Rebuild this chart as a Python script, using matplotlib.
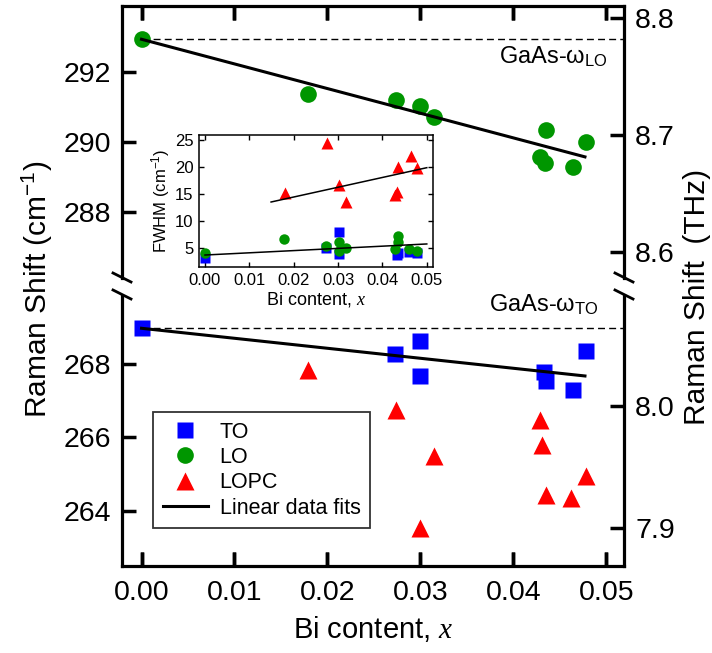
import matplotlib
matplotlib.use('Agg')
import matplotlib.pyplot as plt
from matplotlib.lines import Line2D
from matplotlib.markers import TICKUP, TICKDOWN

plt.rcParams['font.family'] = ['Liberation Sans', 'DejaVu Sans']
plt.rcParams['mathtext.fontset'] = 'custom'
plt.rcParams['mathtext.rm'] = 'Liberation Sans'
plt.rcParams['mathtext.it'] = 'Liberation Serif:italic'
plt.rcParams['mathtext.default'] = 'rm'

# Raman shift (cm-1) vs Bi content
x_to = [0.0, 0.0273, 0.0300, 0.0300, 0.0433, 0.0435, 0.0464, 0.0478]
to_shift = [268.97, 268.27, 268.63, 267.67, 267.77, 267.54, 267.29, 268.35]

x_lo = [0.0, 0.0179, 0.0274, 0.0300, 0.0315, 0.0435, 0.0429, 0.0434, 0.0464, 0.0478]
lo_shift = [292.93, 291.38, 291.19, 291.02, 290.72, 290.35, 289.57, 289.40, 289.29, 290.00]

x_lopc = [0.0179, 0.0274, 0.0300, 0.0315, 0.0429, 0.0431, 0.0435, 0.0462, 0.0478]
lopc_shift = [267.84, 266.75, 263.52, 265.49, 266.47, 265.79, 264.43, 264.34, 264.93]

# linear fits (end points)
fit_x = [0.0, 0.0477]
lo_fit = [292.93, 289.57]
to_fit = [268.97, 267.67]

# GaAs reference phonons
gaas_lo = 292.93
gaas_to = 268.97

# inset: FWHM (cm-1)
ix_to = [0.0, 0.0272, 0.0301, 0.0301, 0.0433, 0.0435, 0.0461, 0.0478]
fwhm_to = [3.15, 5.1, 7.95, 3.9, 3.75, 4.1, 4.4, 4.1]
ix_lo = [0.0, 0.0179, 0.0272, 0.0301, 0.0302, 0.0317, 0.0429, 0.0434, 0.0435, 0.0461, 0.0478]
fwhm_lo = [4.1, 6.65, 5.4, 6.2, 4.5, 5.1, 4.9, 6.2, 7.3, 4.8, 4.5]
ix_lopc = [0.0180, 0.0274, 0.0302, 0.0317, 0.0429, 0.0432, 0.0435, 0.0464, 0.0478]
fwhm_lopc = [15.2, 24.5, 16.7, 13.6, 14.8, 15.3, 20.0, 22.0, 19.9]
ifit_lopc_x = [0.0149, 0.050]
ifit_lopc = [13.54, 19.87]
ifit_ph_x = [0.0, 0.050]
ifit_ph = [3.76, 5.8]

thz = 33.356  # cm-1 per THz
blue, green, red = '#0000ff', '#009600', '#ff0000'

W, H = 712, 653
fig = plt.figure(figsize=(W / 100, H / 100), dpi=100)

def fx(px):
    return px / W

def fy(py):
    return 1 - py / H

xlim = (-0.0021, 0.0519)
xticks = [0.0, 0.01, 0.02, 0.03, 0.04, 0.05]
ax_top = fig.add_axes([fx(122), fy(278), fx(624) - fx(122), fy(6) - fy(278)])
ax_bot = fig.add_axes([fx(122), fy(566), fx(624) - fx(122), fy(296) - fy(566)])
ax_top.set_ylim(286.11, 293.88)
ax_bot.set_ylim(262.49, 269.85)

for ax in (ax_top, ax_bot):
    ax.set_xlim(*xlim)
    ax.set_xticks(xticks)
    for s in ax.spines.values():
        s.set_linewidth(2.3)
    ax.tick_params(axis='y', direction='in', length=10, width=2.5, labelsize=20.5, pad=8)

ax_top.set_yticks([288, 290, 292])
ax_top.spines['bottom'].set_visible(False)

ax_bot.set_yticks([264, 266, 268])
ax_bot.spines['top'].set_visible(False)
ax_bot.set_xticklabels(['%.2f' % t for t in xticks])
ax_bot.set_xlabel('Bi content, $\\mathit{x}$', fontsize=21, labelpad=6)

# right THz axis
def to_thz(y):
    return y / thz

def to_cm(t):
    return t * thz

for ax, ticks in ((ax_top, [8.6, 8.7, 8.8]), (ax_bot, [7.9, 8.0])):
    sec = ax.secondary_yaxis('right', functions=(to_thz, to_cm))
    sec.set_yticks(ticks)
    sec.set_yticklabels(['%.1f' % t for t in ticks])
    sec.tick_params(direction='in', length=10, width=2.5, labelsize=20.5, pad=8)
    sec.spines['right'].set_linewidth(2.3)
    ax.spines['right'].set_visible(False)

# x ticks: inward, top side of the upper panel, bottom side of the lower panel
ax_top.xaxis.set_tick_params(which='major', top=True, bottom=False, labeltop=False,
                             labelbottom=False, direction='in', length=10, width=2.5,
                             color='k')
ax_bot.xaxis.set_tick_params(which='major', top=False, bottom=True, direction='in',
                             length=10, width=2.5, labelsize=20.5, pad=10, color='k')
ax_top.plot(xticks, [1] * len(xticks), ls='none', marker=TICKDOWN, ms=10, mew=2.5,
            color='k', transform=ax_top.get_xaxis_transform(), clip_on=False, zorder=6)
ax_bot.plot(xticks, [0] * len(xticks), ls='none', marker=TICKUP, ms=10, mew=2.5,
            color='k', transform=ax_bot.get_xaxis_transform(), clip_on=False, zorder=6)

# reference lines
ax_top.plot([0, xlim[1]], [gaas_lo, gaas_lo], '--', color='k', lw=1, dashes=(5, 3))
ax_bot.plot([0, xlim[1]], [gaas_to, gaas_to], '--', color='k', lw=1, dashes=(5, 3))
ax_top.text(0.0502, 292.24, 'GaAs-ω$_{\\mathrm{LO}}$', fontsize=17, ha='right', va='baseline')
ax_bot.text(0.0492, 269.43, 'GaAs-ω$_{\\mathrm{TO}}$', fontsize=17, ha='right', va='baseline')

# data
ax_top.plot(x_lo, lo_shift, 'o', color=green, ms=12, mec='none', zorder=3)
ax_top.plot(fit_x, lo_fit, '-', color='k', lw=2.2, zorder=4)

h_to, = ax_bot.plot(x_to, to_shift, 's', color=blue, ms=11.5, mec='none', zorder=3, label='TO')
h_lopc, = ax_bot.plot(x_lopc, lopc_shift, '^', color=red, ms=13, mec='none', zorder=3, label='LOPC')
h_fit, = ax_bot.plot(fit_x, to_fit, '-', color='k', lw=2.2, zorder=4, label='Linear data fits')
h_lo = Line2D([], [], marker='o', ls='none', color=green, ms=12, mec='none', label='LO')

leg = fig.legend(handles=[h_to, h_lo, h_lopc, h_fit], loc='upper left',
                 bbox_to_anchor=(fx(153), fy(412)), borderaxespad=0,
                 fontsize=15.5, frameon=True, fancybox=False, edgecolor='k',
                 handlelength=2.1, handletextpad=0.55, labelspacing=0.2,
                 borderpad=0.45, numpoints=1)
leg.get_frame().set_linewidth(1.3)

# axis break marks
for xp in (122, 624):
    for yp in (278, 295):
        fig.add_artist(Line2D([fx(xp - 9), fx(xp + 9)], [fy(yp - 5), fy(yp + 4)],
                              transform=fig.transFigure, color='k', lw=2))

fig.text(fx(37), fy(289), 'Raman Shift (cm$^{-1}$)', rotation=90, fontsize=21.5,
         ha='center', va='center')
fig.text(fx(697), fy(297), 'Raman Shift  (THz)', rotation=90, fontsize=21.5,
         ha='center', va='center')

# inset
axi = fig.add_axes([fx(199), fy(267), fx(433) - fx(199), fy(135) - fy(267)])
axi.set_facecolor('white')
axi.set_xlim(-0.00135, 0.0514)
axi.set_ylim(1.55, 25.9)
axi.plot(ix_lopc, fwhm_lopc, '^', color=red, ms=8, mec='none')
axi.plot(ix_to, fwhm_to, 's', color=blue, ms=7, mec='none')
axi.plot(ix_lo, fwhm_lo, 'o', color=green, ms=7.5, mec='none')
axi.plot(ifit_lopc_x, ifit_lopc, '-', color='k', lw=1.1)
axi.plot(ifit_ph_x, ifit_ph, '-', color='k', lw=1.1)
axi.set_xticks(xticks)
axi.set_xticklabels(['%.2f' % t for t in xticks])
axi.set_yticks([5, 10, 15, 20, 25])
axi.tick_params(direction='in', length=3.5, width=1, labelsize=12, pad=4,
                top=True, right=True)
for s in axi.spines.values():
    s.set_linewidth(1.1)
axi.set_xlabel('Bi content, $\\mathit{x}$', fontsize=13, labelpad=2)
axi.set_ylabel('FWHM (cm$^{-1}$)', fontsize=12, labelpad=2)

fig.savefig('out.png', dpi=100)
